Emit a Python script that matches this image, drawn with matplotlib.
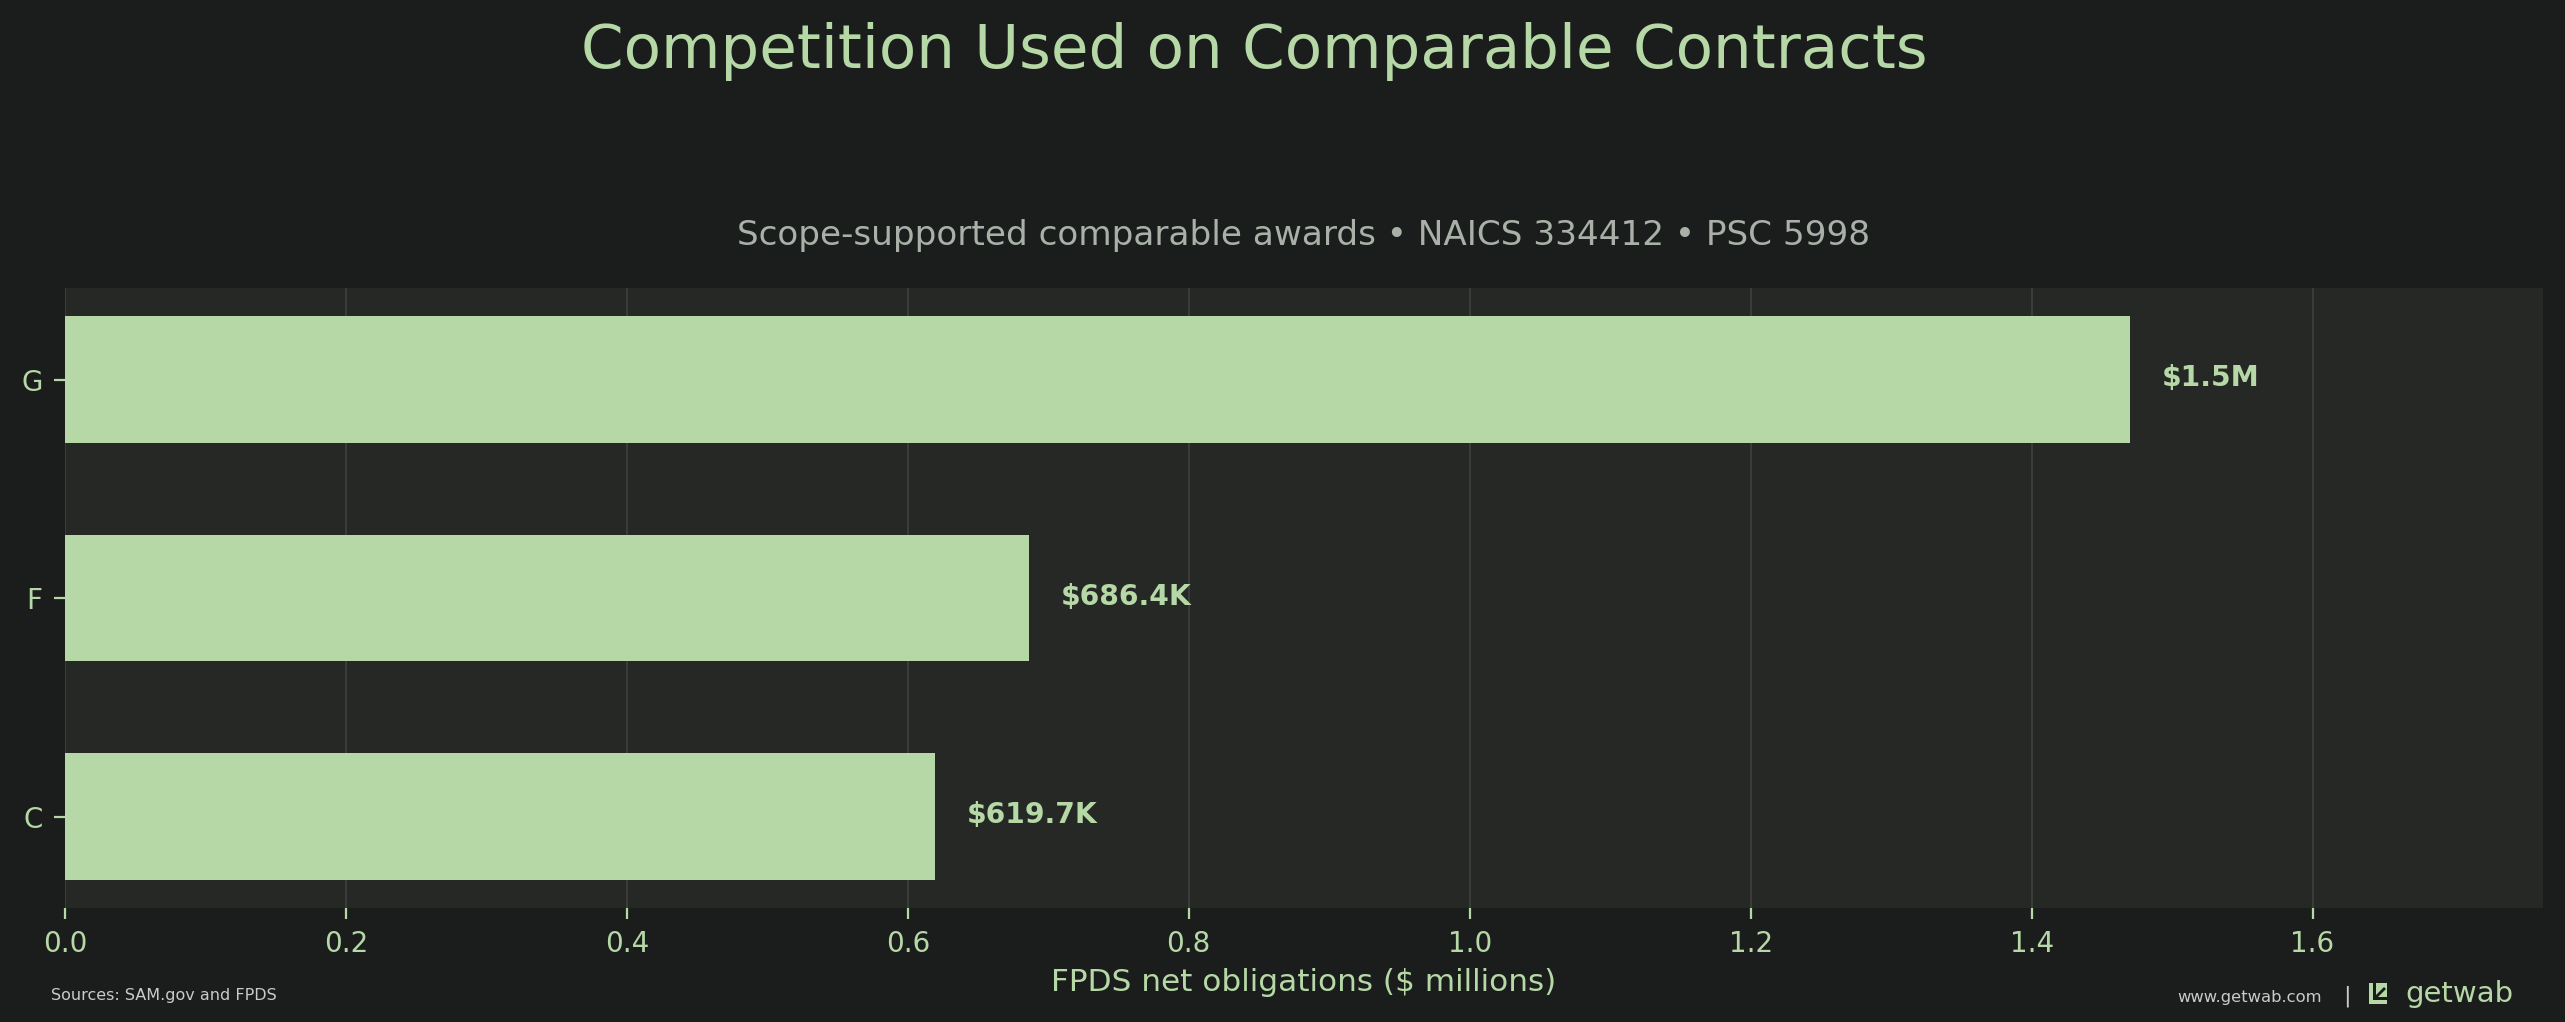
import matplotlib.pyplot as plt
from matplotlib.patches import Rectangle, Polygon

# data
categories = ['C', 'F', 'G']
values = [0.6197, 0.6864, 1.47]   # $ millions
value_labels = ['$619.7K', '$686.4K', '$1.5M']

GREEN = '#b5d8a6'
BG = '#1b1d1c'
AX_BG = '#262826'
GRID = '#3e413e'
SUB = '#a8b0a8'

fig = plt.figure(figsize=(12.825, 5.11), dpi=200, facecolor=BG)
ax = fig.add_axes([0.0253, 0.1115, 0.9661, 0.6067])
ax.set_facecolor(AX_BG)

ax.barh(categories, values, height=0.58, color=GREEN, zorder=3)
ax.set_xlim(0, max(values) * 1.2)

for y, (v, lab) in enumerate(zip(values, value_labels)):
    ax.annotate(lab, (v, y), xytext=(11.3, 0.5), textcoords='offset points',
                va='center', ha='left', color=GREEN, fontsize=10.2,
                fontweight='bold', zorder=4)

ax.grid(axis='x', color=GRID, linewidth=0.6, zorder=0)
ax.grid(axis='y', visible=False)
for s in ax.spines.values():
    s.set_visible(False)
ax.tick_params(colors=GREEN, labelsize=10, length=4, width=0.8, pad=4)
ax.set_xlabel('FPDS net obligations ($ millions)', color=GREEN, fontsize=11.2, labelpad=3.5)

fig.text(0.489, 0.9335, 'Competition Used on Comparable Contracts',
         ha='center', va='baseline', color=GREEN, fontsize=22)
fig.text(0.5084, 0.760, 'Scope-supported comparable awards \u2022 NAICS 334412 \u2022 PSC 5998',
         ha='center', va='baseline', color=SUB, fontsize=12.35)

# footer
fig.text(0.0199, 0.0215, 'Sources: SAM.gov and FPDS', ha='left', va='baseline',
         color='#c8ccc8', fontsize=5.75)
fig.text(0.9051, 0.0196, 'www.getwab.com', ha='right', va='baseline',
         color='#c8ccc8', fontsize=5.9)
fig.text(0.9148, 0.0196, '|', ha='center', va='baseline', color='#c8ccc8', fontsize=8)

# small logo mark
W, H = 2565, 1022
x0, y0, s = 2369 / W, (1022 - 1004) / H, 18
fig.patches.append(Rectangle((x0, y0), s / W, 21 / H, transform=fig.transFigure,
                             facecolor=GREEN, edgecolor='none'))
fig.patches.append(Polygon([(x0 + 4 / W, y0 + 21 / H), (x0 + 7 / W, y0 + 21 / H),
                            (x0 + 7 / W, y0 + 9 / H), (x0 + 15 / W, y0 + 17 / H),
                            (x0 + 17 / W, y0 + 15 / H), (x0 + 9 / W, y0 + 7 / H),
                            (x0 + 18 / W, y0 + 7 / H), (x0 + 18 / W, y0 + 4 / H),
                            (x0 + 4 / W, y0 + 4 / H)],
                           closed=True, transform=fig.transFigure,
                           facecolor=BG, edgecolor='none'))
fig.text(2405 / W, (1022 - 1002) / H, 'getwab', ha='left', va='baseline',
         color=GREEN, fontsize=10.5, fontweight='medium')

fig.savefig('out.png', dpi=200, facecolor=BG)
